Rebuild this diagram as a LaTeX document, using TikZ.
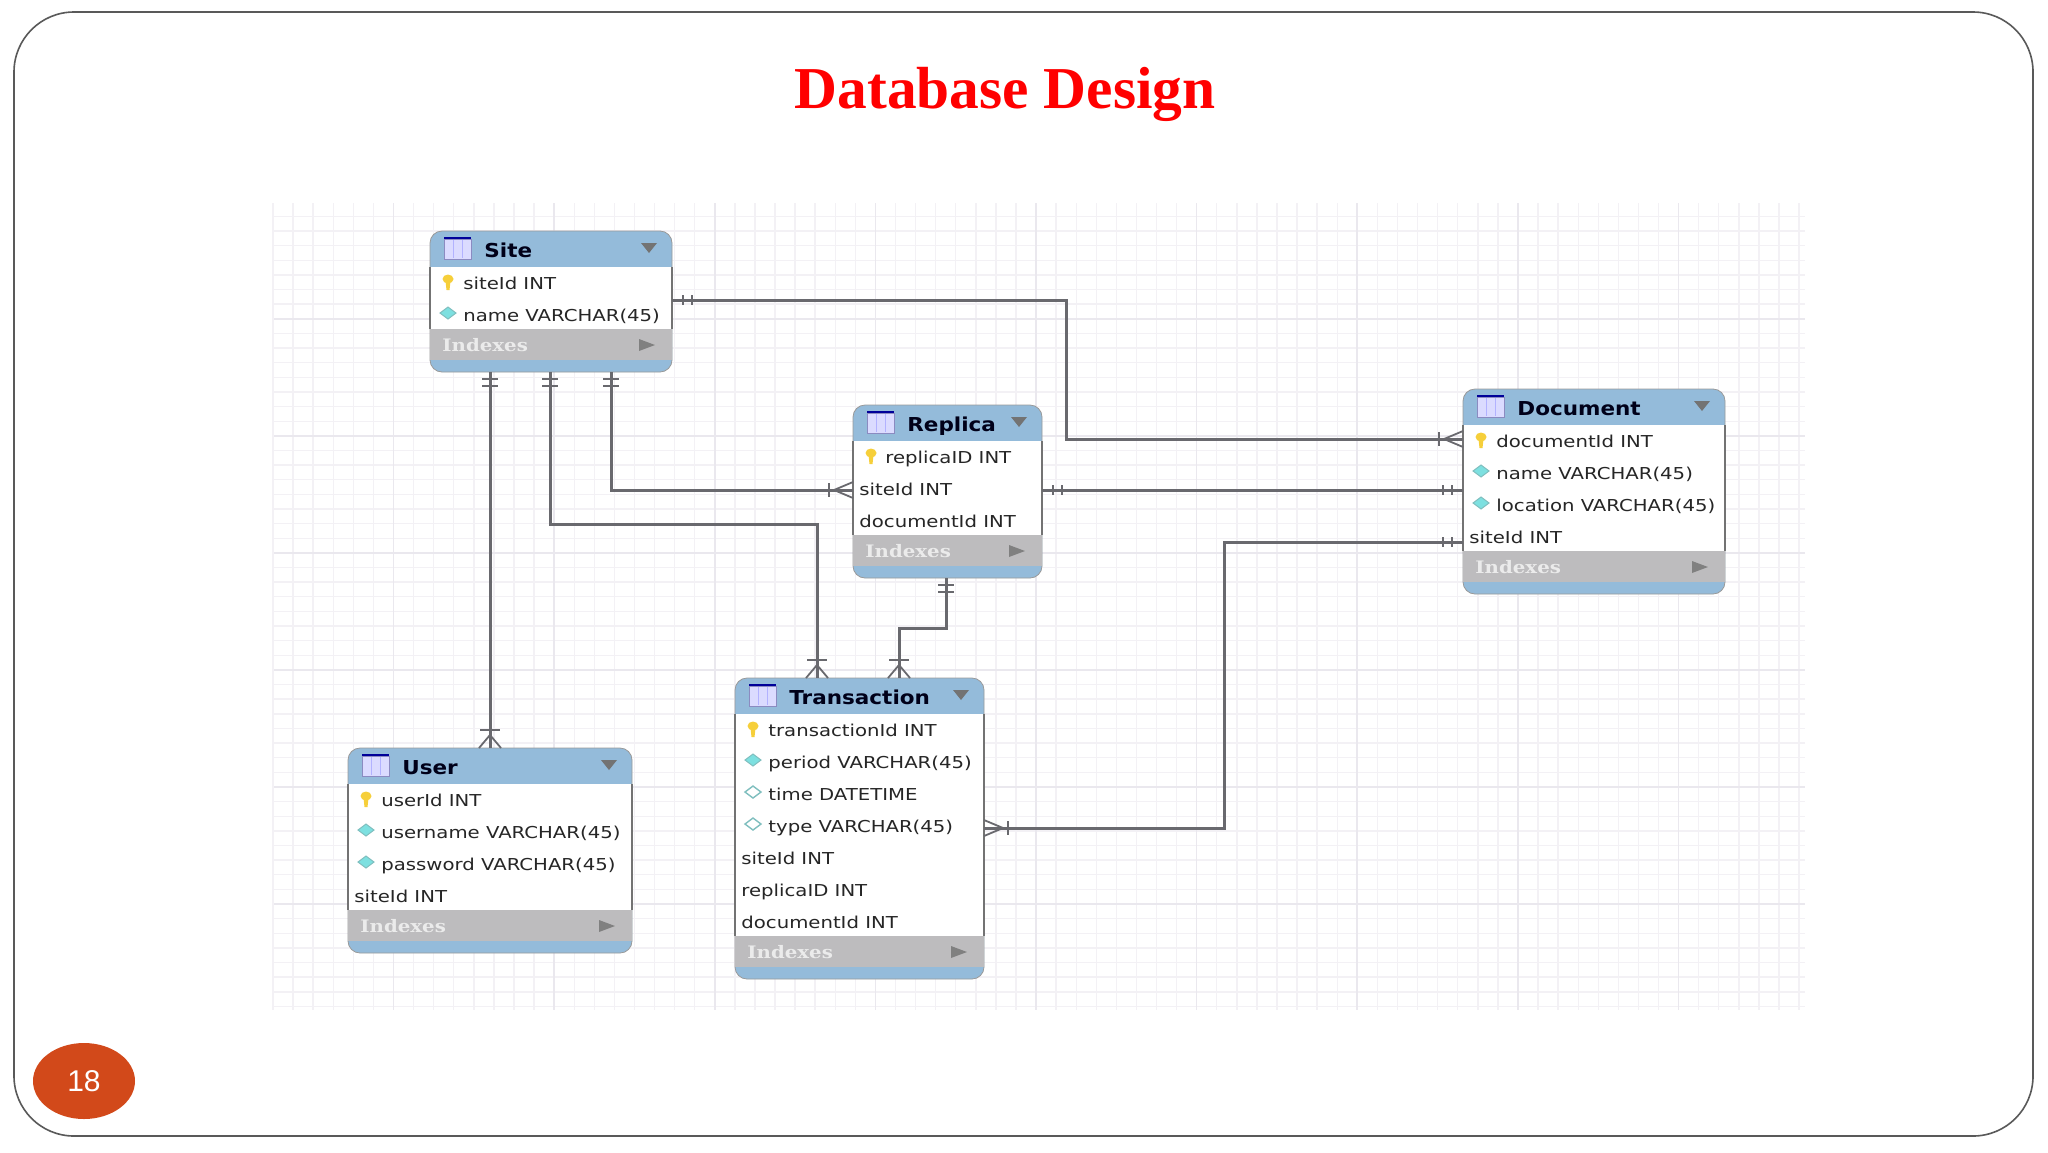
\documentclass[tikz,border=0pt]{standalone}
\usepackage{fontspec}
\usetikzlibrary{shapes.geometric}
\setmainfont{Liberation Serif}
\newfontfamily\rowfont[FakeStretch=1.2]{DejaVu Sans}
\newfontfamily\headfont[FakeStretch=1.12]{DejaVu Sans}
\newfontfamily\idxfont[FakeStretch=1.15]{DejaVu Serif}
\newfontfamily\numfont{Liberation Sans}
\definecolor{tblblue}{HTML}{94BBDA}
\definecolor{idxgray}{HTML}{BDBCBE}
\definecolor{relgray}{HTML}{69696E}
\definecolor{minorgrid}{HTML}{F3F1F5}
\definecolor{majorgrid}{HTML}{EAE8EE}
\definecolor{slidered}{HTML}{D2491A}
\definecolor{keyyellow}{HTML}{F6CF3A}
\definecolor{keydiamond}{HTML}{7DE0E0}
\tikzset{
    tablebox/.style={draw=black!40,fill=tblblue,rounded corners=6pt,inner sep=0,outer sep=0},
    rowtext/.style={anchor=base west,inner sep=0,font=\rowfont\fontsize{8.2}{10}\selectfont,text=black!85},
    headtext/.style={anchor=base west,inner sep=0,font=\headfont\bfseries\fontsize{9.6}{11}\selectfont,text=black!90!blue},
    idxtext/.style={anchor=base west,inner sep=0,font=\idxfont\bfseries\fontsize{8.6}{10}\selectfont,text=white!92!black},
    rel/.style={draw=relgray,line width=1.5pt},
    relmark/.style={draw=relgray,line width=1.2pt},
    keyicon/.pic={
        \fill[keyyellow] (-2.5,-2) -- (2.5,-2) -- (1.5,7) -- (-1.5,7) -- cycle;
        \fill[keyyellow] (0,-4) ellipse [x radius=5.5,y radius=4.5];
    },
    fullicon/.pic={\filldraw[draw=teal!50!white,fill=keydiamond,line width=.5pt] (-8,-2) -- (0,-8) -- (8,-2) -- (0,4) -- cycle;},
    openicon/.pic={\filldraw[draw=teal!50!white,fill=white,line width=.7pt] (-8,-2) -- (0,-8) -- (8,-2) -- (0,4) -- cycle;},
    noicon/.pic={},
    gridicon/.pic={
        \filldraw[draw=blue!30!gray!70,fill=blue!14!white,line width=.5pt] (14,8) rectangle (41,28);
        \draw[blue!60!black,line width=.9pt] (14,7) -- (41,7);
        \draw[white!70!blue,line width=.3pt] (23,9) -- (23,27) (32,9) -- (32,27);
    },
    onev/.pic={\draw[relmark] (-8,7) -- (8,7) (-8,14) -- (8,14);},
    oneh/.pic={\draw[relmark] (11,-5) -- (11,5) (20,-5) -- (20,5);},
    manyv/.pic={
        \draw[relmark,line width=.9pt] (-11,0) -- (0,13) -- (11,0);
        \draw[relmark] (-10,18) -- (10,18);
    },
    manyh/.pic={
        \draw[relmark,line width=.9pt] (0,-8) -- (19,0) -- (0,8);
        \draw[relmark] (24,-7) -- (24,7);
    },
}
% #1 name, #2 left, #3 top, #4 width, #5 rows, #6 title, #7 icon/x/text list
\newcommand{\dbtable}[7]{
    \pgfmathsetmacro{\rowsend}{36+32*#5-2}
    \node[tablebox,anchor=north west,minimum width=#4*.5pt,minimum height={(\rowsend+43)*.5pt}] (#1) at (#2,#3) {};
    \begin{scope}[shift={(#2,#3)}]
        \fill[white] (0,36) rectangle (#4,\rowsend);
        \draw[black!55,line width=.7pt] (0,36) -- (0,\rowsend) (#4,36) -- (#4,\rowsend);
        \fill[idxgray] (0,\rowsend) rectangle (#4,\rowsend+31);
        \pic at (0,0) {gridicon};
        \node[headtext] (#1-title) at (54,26) {#6};
        \fill[black!55] (#4-31,12) -- (#4-15,12) -- (#4-23,22) -- cycle;
        \foreach \icon/\rowx/\txt [count=\k] in {#7} {
            \pic at (18,20+32*\k) {\icon};
            \node[rowtext] (#1-\k) at (\rowx,26+32*\k) {\txt};
        }
        \node[idxtext] (#1-idx) at (12,\rowsend+22) {Indexes};
        \fill[black!50] (#4-33,\rowsend+10) -- (#4-17,\rowsend+16) -- (#4-33,\rowsend+22) -- cycle;
    \end{scope}
}

\begin{document}
\begin{tikzpicture}[x=.5pt,y=-.5pt]
    \useasboundingbox (0,0) rectangle (2048,1152);
    \fill[white] (0,0) rectangle (2048,1152);
    \draw[black!65,line width=.8pt,rounded corners=30pt] (14,12) rectangle (2033,1136);
    \node[text=red,font=\bfseries\fontsize{29.7}{34}\selectfont,inner sep=0] (heading) at (1005,94) {Database Design};
    \node[ellipse,fill=slidered,minimum width=51pt,minimum height=38pt,inner sep=0,text=white,font=\numfont\fontsize{15}{17}\selectfont] (pagenum) at (84,1081) {18};

    % grid
    \foreach \k in {0,...,76}
        \draw[minorgrid,line width=.7pt] ({273+20.08*\k},203) -- ++(0,807);
    \foreach \k in {-7,...,47}
        \draw[minorgrid,line width=.7pt] (274,{904-14.63*\k}) -- (1805,{904-14.63*\k});
    \foreach \k in {0,...,8}
        \draw[majorgrid,line width=.8pt] ({393.5+160.6*\k},203) -- ++(0,807);
    \foreach \k in {0,...,5}
        \draw[majorgrid,line width=.8pt] (274,{904-117.04*\k}) -- (1805,{904-117.04*\k});

    % tables
    \dbtable{site}{430}{231}{242}{2}{Site}{keyicon/33/siteId INT,fullicon/33/name VARCHAR(45)}
    \dbtable{replica}{853}{405}{189}{3}{Replica}{keyicon/32/replicaID INT,noicon/6/siteId INT,noicon/6/documentId INT}
    \dbtable{doc}{1463}{389}{262}{4}{Document}{keyicon/33/documentId INT,fullicon/33/name VARCHAR(45),fullicon/33/location VARCHAR(45),noicon/6/siteId INT}
    \dbtable{user}{348}{748}{284}{4}{User}{keyicon/33/userId INT,fullicon/33/username VARCHAR(45),fullicon/33/password VARCHAR(45),noicon/6/siteId INT}
    \dbtable{trans}{735}{678}{249}{7}{Transaction}{keyicon/33/transactionId INT,fullicon/33/period VARCHAR(45),openicon/33/time DATETIME,openicon/33/type VARCHAR(45),noicon/6/siteId INT,noicon/6/replicaID INT,noicon/6/documentId INT}

    % connector routes
    \coordinate (dropU) at (490,0);
    \coordinate (bendT) at (550,524);
    \coordinate (dropT) at (817,0);
    \coordinate (bendR) at (611,490);
    \coordinate (bendD) at (1066,300);
    \coordinate (intoD) at (0,439);
    \coordinate (linkRD) at (0,490);
    \coordinate (stepT) at (1224,542);
    \coordinate (intoT) at (0,828);
    \coordinate (stepR) at (946,628);
    \coordinate (dropR) at (899,0);

    \draw[rel] (dropU |- site.south) -- (dropU |- user.north);
    \draw[rel] (bendT |- site.south) -- (bendT) -| (dropT |- trans.north);
    \draw[rel] (bendR |- site.south) -- (bendR) -- (replica.west |- bendR);
    \draw[rel] (site.east |- bendD) -- (bendD) |- (doc.west |- intoD);
    \draw[rel] (replica.east |- linkRD) -- (doc.west |- linkRD);
    \draw[rel] (doc.west |- stepT) -- (stepT) |- (trans.east |- intoT);
    \draw[rel] (stepR |- replica.south) -- (stepR) -| (dropR |- trans.north);

    \pic at (dropU |- site.south) {onev};
    \pic at (bendT |- site.south) {onev};
    \pic at (bendR |- site.south) {onev};
    \pic at (stepR |- replica.south) {onev};
    \pic at (site.east |- bendD) {oneh};
    \pic at (replica.east |- linkRD) {oneh};
    \pic[xscale=-1] at (doc.west |- linkRD) {oneh};
    \pic[xscale=-1] at (doc.west |- stepT) {oneh};
    \pic[yscale=-1] at (dropU |- user.north) {manyv};
    \pic[yscale=-1] at (dropT |- trans.north) {manyv};
    \pic[yscale=-1] at (dropR |- trans.north) {manyv};
    \pic[xscale=-1] at (replica.west |- bendR) {manyh};
    \pic[xscale=-1] at (doc.west |- intoD) {manyh};
    \pic at (trans.east |- intoT) {manyh};
\end{tikzpicture}
\end{document}
